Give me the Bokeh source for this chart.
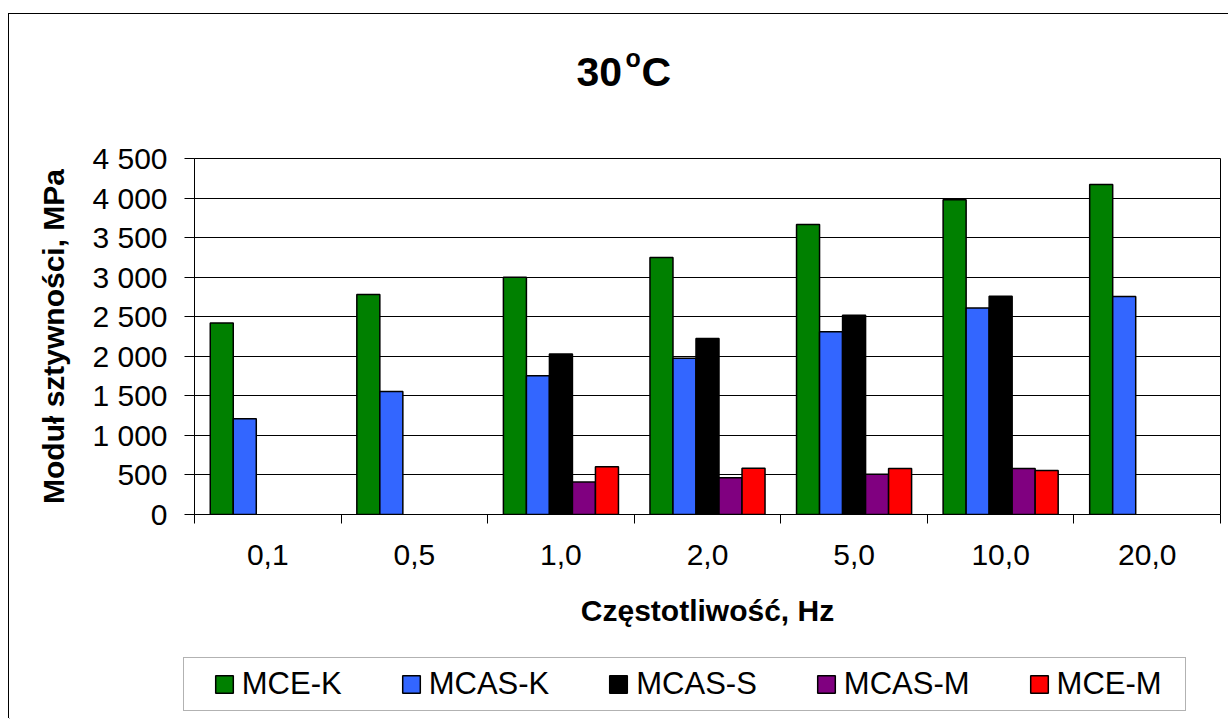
from bokeh.plotting import figure
from bokeh.layouts import column
from bokeh.models import (ColumnDataSource, FixedTicker, Range1d, Legend,
                          LegendItem, Label)
from bokeh.embed import file_html
from bokeh.resources import INLINE

# ---- data ----
categories = ["0,1", "0,5", "1,0", "2,0", "5,0", "10,0", "20,0"]
series_names = ["MCE-K", "MCAS-K", "MCAS-S", "MCAS-M", "MCE-M"]
mce_k = [2420, 2780, 3000, 3250, 3665, 3980, 4170]
mcas_k = [1210, 1555, 1755, 1975, 2310, 2610, 2755]
mcas_s = [None, None, 2030, 2225, 2520, 2760, None]
mcas_m = [None, None, 410, 465, 510, 580, None]
mce_m = [None, None, 605, 585, 580, 555, None]
series_values = [mce_k, mcas_k, mcas_s, mcas_m, mce_m]
colors = ["#008000", "#3366FF", "#000000", "#800080", "#FF0000"]
y_ticks = [0, 500, 1000, 1500, 2000, 2500, 3000, 3500, 4000, 4500]
y_tick_labels = ["0", "500", "1 000", "1 500", "2 000", "2 500", "3 000",
                 "3 500", "4 000", "4 500"]
x_title = "Częstotliwość, Hz"
y_title = "Moduł sztywności, MPa"

FONT = "Liberation Sans"
BAR_W = 0.157
W = 1220
LEFT = 185


def blank_fig(h):
    f = figure(width=W, height=h, x_range=Range1d(0, 1), y_range=Range1d(0, 1),
               output_backend="svg", toolbar_location=None,
               x_axis_location=None, y_axis_location=None,
               min_border=0, min_border_left=0, min_border_right=0,
               min_border_top=0, min_border_bottom=0)
    f.xgrid.visible = False
    f.ygrid.visible = False
    f.outline_line_color = None
    f.background_fill_color = "white"
    f.border_fill_color = "white"
    return f


pt = blank_fig(124)
pl = blank_fig(79)
try:
    pt.frame_align = False
    pl.frame_align = False
    off = 0
except Exception:
    off = LEFT

# ---- title figure ----
title_parts = [("30", 567, 67, "41px"), ("o", 616, 81, "25px"), ("C", 632, 67, "41px")]
for txt, tx, ty, fs in title_parts:
    pt.add_layout(Label(x=tx - off, y=ty, x_units="screen", y_units="screen",
                        text=txt, text_font=FONT, text_font_style="bold",
                        text_font_size=fs, text_color="#000000",
                        text_baseline="alphabetic", text_align="left"))

# ---- main chart ----
p = figure(width=W, height=502, x_range=Range1d(0, len(categories)),
           y_range=Range1d(0, 4500), output_backend="svg",
           toolbar_location=None, min_border_left=LEFT, min_border_right=9,
           min_border_top=20, min_border_bottom=126)
p.background_fill_color = "white"
p.border_fill_color = "white"
p.outline_line_color = "#000000"
p.outline_line_width = 1

n = len(series_names)
for j, (name, vals, col) in enumerate(zip(series_names, series_values, colors)):
    xs, tops = [], []
    for i, v in enumerate(vals):
        if v is not None:
            xs.append(i + 0.5 + (j - (n - 1) / 2) * BAR_W)
            tops.append(v)
    src = ColumnDataSource(dict(x=xs, top=tops))
    p.vbar(x="x", top="top", bottom=0, width=BAR_W, source=src,
           fill_color=col, line_color="#000000", line_width=1.5)

p.xgrid.visible = False
p.ygrid.ticker = FixedTicker(ticks=y_ticks)
p.ygrid.grid_line_color = "#000000"
p.ygrid.grid_line_width = 1

ya = p.yaxis[0]
ya.ticker = FixedTicker(ticks=y_ticks, minor_ticks=[])
ya.major_label_overrides = {t: l for t, l in zip(y_ticks, y_tick_labels)}
ya.major_tick_out = 10
ya.major_tick_in = 0
ya.minor_tick_out = 0
ya.axis_line_color = "#000000"
ya.major_tick_line_color = "#000000"
ya.major_label_text_font = FONT
ya.major_label_text_font_size = "30px"
ya.major_label_text_color = "#000000"
ya.major_label_standoff = 17
ya.axis_label = y_title
ya.axis_label_text_font = FONT
ya.axis_label_text_font_style = "bold"
ya.axis_label_text_font_size = "30px"
ya.axis_label_text_color = "#000000"
ya.axis_label_standoff = 19

xa = p.xaxis[0]
centers = [i + 0.5 for i in range(len(categories))]
xa.ticker = FixedTicker(ticks=centers,
                        minor_ticks=list(range(len(categories) + 1)))
xa.major_label_overrides = {c: l for c, l in zip(centers, categories)}
xa.major_tick_out = 0
xa.major_tick_in = 0
xa.minor_tick_out = 9
xa.minor_tick_in = 0
xa.minor_tick_line_color = "#000000"
xa.axis_line_color = "#000000"
xa.major_label_text_font = FONT
xa.major_label_text_font_size = "30px"
xa.major_label_text_color = "#000000"
xa.major_label_standoff = 21
xa.axis_label = x_title
xa.axis_label_text_font = FONT
xa.axis_label_text_font_style = "bold"
xa.axis_label_text_font_size = "30px"
xa.axis_label_text_color = "#000000"
xa.axis_label_standoff = 26

# ---- legend figure ----
dummy = pl.vbar(x=[-10], top=[0], bottom=[0], width=0.1, fill_alpha=0,
                line_alpha=0)
frame_leg = Legend(items=[LegendItem(label=" ", renderers=[dummy])],
                   location=(174 - off, 8), orientation="horizontal",
                   glyph_width=1001, glyph_height=52, label_standoff=0,
                   label_width=0, label_height=0, padding=0, margin=0,
                   label_text_font_size="1px",
                   border_line_color="#666666", border_line_width=1,
                   background_fill_color="white", background_fill_alpha=1)
pl.add_layout(frame_leg, "center")

leg_renderers = [pl.vbar(x=[-10], top=[0], bottom=[0], width=0.1, fill_color=c,
                         line_color="#000000", line_width=1.5) for c in colors]
items_leg = Legend(items=[LegendItem(label=nm, renderers=[r])
                          for nm, r in zip(series_names, leg_renderers)],
                   location=(203.8 - off, 17.2), orientation="horizontal",
                   glyph_width=22, glyph_height=22, label_standoff=7,
                   spacing=58, padding=0, margin=0,
                   label_text_font=FONT, label_text_font_size="31px",
                   label_text_color="#000000",
                   border_line_alpha=0, background_fill_alpha=0)
pl.add_layout(items_leg, "center")

layout = column(pt, p, pl, spacing=0)
layout.margin = (14, 0, 0, 9)
layout.styles = {"box-shadow": "-1px -1px 0 0 #000000"}

open("out.html", "w").write(file_html(layout, INLINE))
